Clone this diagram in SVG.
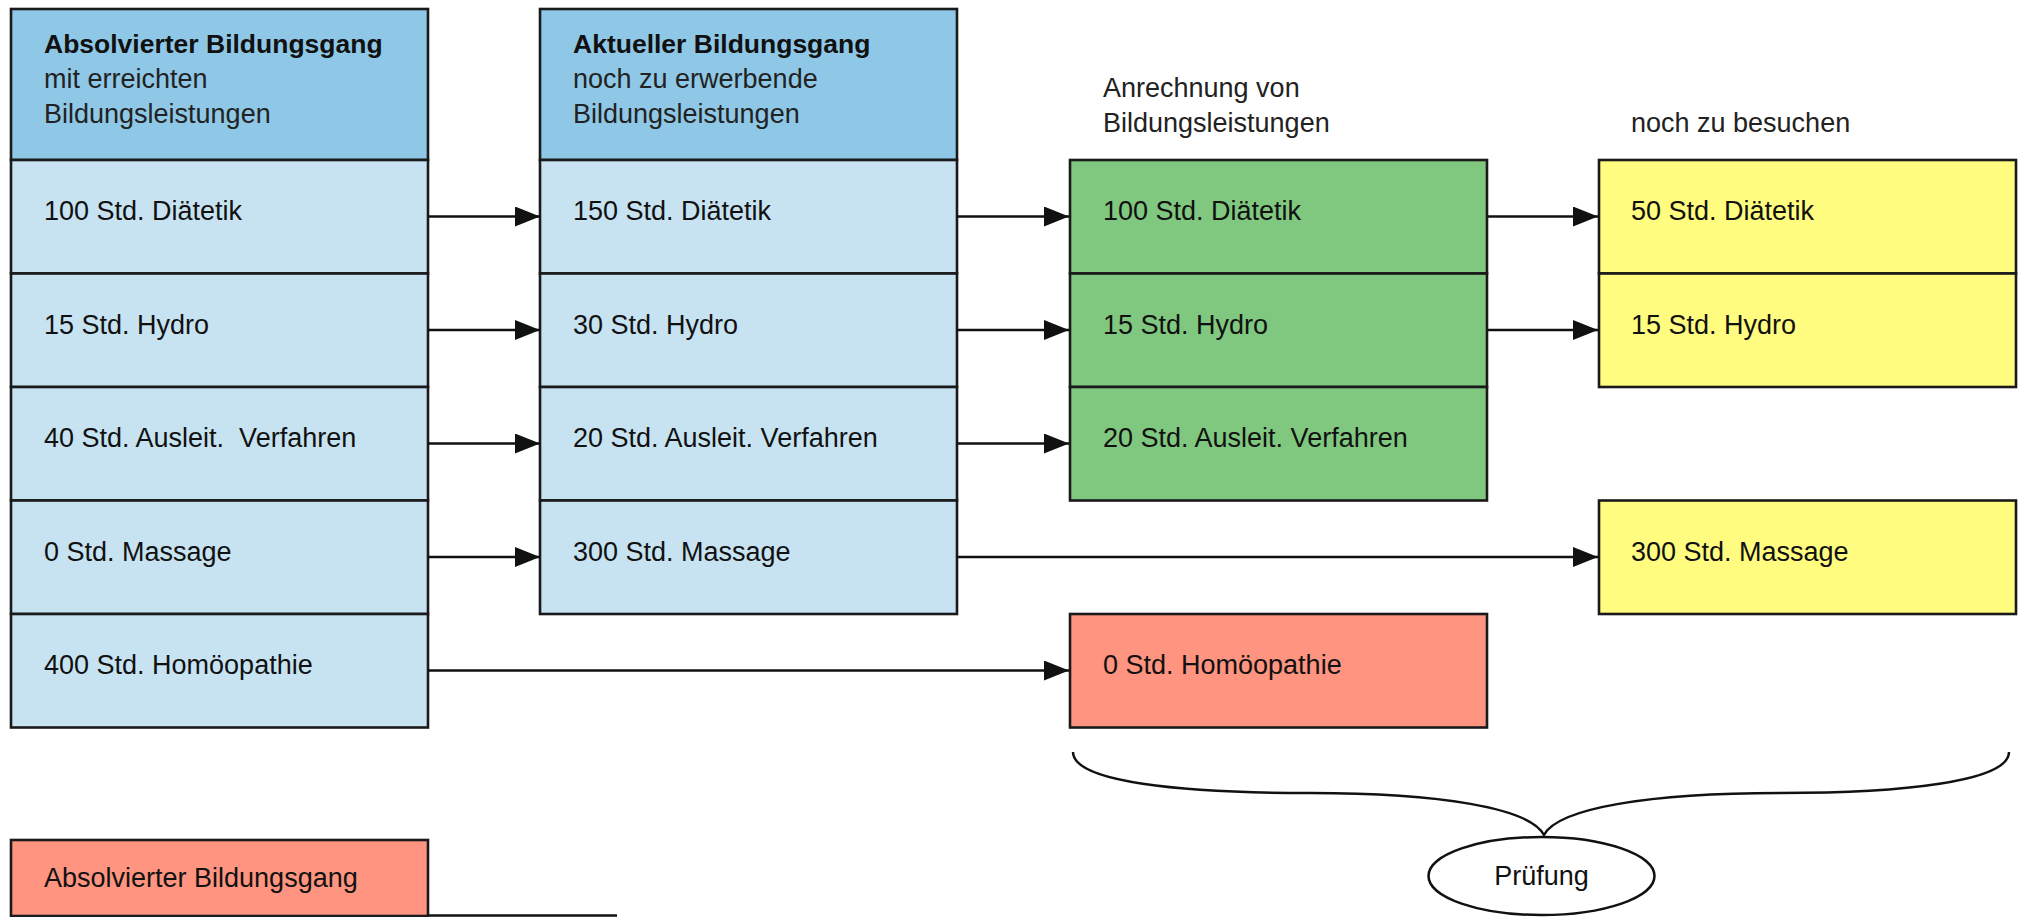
<svg xmlns="http://www.w3.org/2000/svg" width="2022" height="917" viewBox="0 0 2022 917">
<style>
.box{stroke:#1a1a1a;stroke-width:2.6}
.hd{fill:#8FC8E6}
.lb{fill:#C7E3F2}
.gr{fill:#80C880}
.ye{fill:#FFFC80}
.rd{fill:#FF9480}
text{font-family:"Liberation Sans",Arial,sans-serif;font-size:27px;fill:#111}
.b{font-weight:bold;font-size:26.5px}
.lt{fill:#222}
.con{stroke:#111;stroke-width:2.5;fill:none}
</style>
<defs>
<marker id="ah" viewBox="0 0 25 20" refX="25" refY="10" markerWidth="25" markerHeight="20" markerUnits="userSpaceOnUse" orient="auto">
<path d="M0,0 L25,10 L0,20 Z" fill="#111"/>
</marker>
</defs>
<rect width="2022" height="917" fill="#fff"/>

<g id="col1">
<g id="col1-header"><rect class="box hd" x="11" y="9" width="417" height="151"/>
<text class="b" x="44" y="53">Absolvierter Bildungsgang</text>
<text class="lt" x="44" y="88">mit erreichten</text>
<text class="lt" x="44" y="123">Bildungsleistungen</text></g>
<g id="col1-r1"><rect class="box lb" x="11" y="160" width="417" height="113.5"/><text x="44" y="220">100 Std. Diätetik</text></g>
<g id="col1-r2"><rect class="box lb" x="11" y="273.5" width="417" height="113.5"/><text x="44" y="333.5">15 Std. Hydro</text></g>
<g id="col1-r3"><rect class="box lb" x="11" y="387" width="417" height="113.5"/><text x="44" y="447" xml:space="preserve">40 Std. Ausleit.  Verfahren</text></g>
<g id="col1-r4"><rect class="box lb" x="11" y="500.5" width="417" height="113.5"/><text x="44" y="560.5">0 Std. Massage</text></g>
<g id="col1-r5"><rect class="box lb" x="11" y="614" width="417" height="113.5"/><text x="44" y="674">400 Std. Homöopathie</text></g>
</g>

<g id="col2">
<g id="col2-header"><rect class="box hd" x="540" y="9" width="417" height="151"/>
<text class="b" x="573" y="53">Aktueller Bildungsgang</text>
<text class="lt" x="573" y="88">noch zu erwerbende</text>
<text class="lt" x="573" y="123">Bildungsleistungen</text></g>
<g id="col2-r1"><rect class="box lb" x="540" y="160" width="417" height="113.5"/><text x="573" y="220">150 Std. Diätetik</text></g>
<g id="col2-r2"><rect class="box lb" x="540" y="273.5" width="417" height="113.5"/><text x="573" y="333.5">30 Std. Hydro</text></g>
<g id="col2-r3"><rect class="box lb" x="540" y="387" width="417" height="113.5"/><text x="573" y="447">20 Std. Ausleit. Verfahren</text></g>
<g id="col2-r4"><rect class="box lb" x="540" y="500.5" width="417" height="113.5"/><text x="573" y="560.5">300 Std. Massage</text></g>
</g>

<g id="col3">
<text id="col3-title1" class="lt" x="1103" y="97">Anrechnung von</text>
<text id="col3-title2" class="lt" x="1103" y="132">Bildungsleistungen</text>
<g id="col3-r1"><rect class="box gr" x="1070" y="160" width="417" height="113.5"/><text x="1103" y="220">100 Std. Diätetik</text></g>
<g id="col3-r2"><rect class="box gr" x="1070" y="273.5" width="417" height="113.5"/><text x="1103" y="333.5">15 Std. Hydro</text></g>
<g id="col3-r3"><rect class="box gr" x="1070" y="387" width="417" height="113.5"/><text x="1103" y="447">20 Std. Ausleit. Verfahren</text></g>
<g id="col3-r5"><rect class="box rd" x="1070" y="614" width="417" height="113.5"/><text x="1103" y="674">0 Std. Homöopathie</text></g>
</g>

<g id="col4">
<text id="col4-title" class="lt" x="1631" y="132">noch zu besuchen</text>
<g id="col4-r1"><rect class="box ye" x="1599" y="160" width="417" height="113.5"/><text x="1631" y="220">50 Std. Diätetik</text></g>
<g id="col4-r2"><rect class="box ye" x="1599" y="273.5" width="417" height="113.5"/><text x="1631" y="333.5">15 Std. Hydro</text></g>
<g id="col4-r4"><rect class="box ye" x="1599" y="500.5" width="417" height="113.5"/><text x="1631" y="560.5">300 Std. Massage</text></g>
</g>

<g id="legend">
<rect class="box rd" x="11" y="840" width="417" height="76"/>
<line x1="428" y1="915.5" x2="617" y2="915.5" stroke="#111" stroke-width="2.6"/>
<text x="44" y="887">Absolvierter Bildungsgang</text>
</g>

<g id="pruefung">
<ellipse cx="1541.5" cy="876" rx="113" ry="39" fill="#fff" stroke="#111" stroke-width="2.5"/>
<text x="1541.5" y="885" text-anchor="middle">Prüfung</text>
</g>

<g id="connectors">
<line class="con" x1="428" y1="216.5" x2="540" y2="216.5" marker-end="url(#ah)"/>
<line class="con" x1="957" y1="216.5" x2="1069" y2="216.5" marker-end="url(#ah)"/>
<line class="con" x1="1487" y1="216.5" x2="1598" y2="216.5" marker-end="url(#ah)"/>
<line class="con" x1="428" y1="330" x2="540" y2="330" marker-end="url(#ah)"/>
<line class="con" x1="957" y1="330" x2="1069" y2="330" marker-end="url(#ah)"/>
<line class="con" x1="1487" y1="330" x2="1598" y2="330" marker-end="url(#ah)"/>
<line class="con" x1="428" y1="443.5" x2="540" y2="443.5" marker-end="url(#ah)"/>
<line class="con" x1="957" y1="443.5" x2="1069" y2="443.5" marker-end="url(#ah)"/>
<line class="con" x1="428" y1="557" x2="540" y2="557" marker-end="url(#ah)"/>
<line class="con" x1="957" y1="557" x2="1598" y2="557" marker-end="url(#ah)"/>
<line class="con" x1="428" y1="670.5" x2="1069" y2="670.5" marker-end="url(#ah)"/>
<path class="con" stroke-width="3.5" d="M1073,752 C1073,782 1180,793 1310,793 C1440,793 1530,808 1544,835 C1558,808 1650,793 1780,793 C1900,793 2009,782 2009,752"/>
</g>
</svg>
